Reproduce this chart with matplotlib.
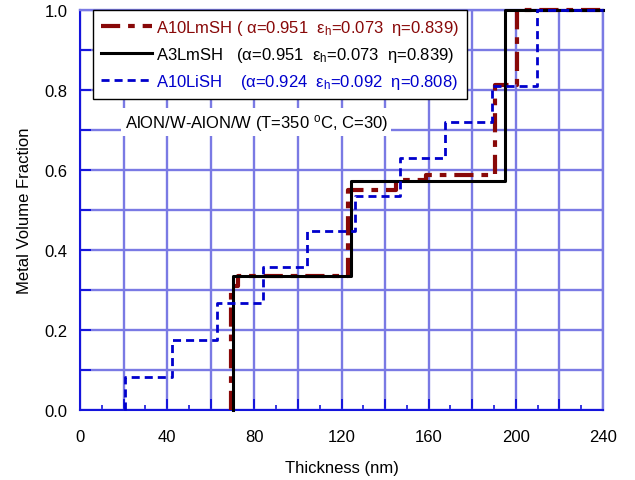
import matplotlib.pyplot as plt
from matplotlib.ticker import MultipleLocator, FuncFormatter
import numpy as np

plt.rcParams['font.family'] = ['Liberation Sans', 'DejaVu Sans']
plt.rcParams['mathtext.fontset'] = 'custom'
plt.rcParams['mathtext.rm'] = 'Liberation Sans'
plt.rcParams['mathtext.it'] = 'Liberation Sans:italic'

# layer boundaries (nm) and metal fraction of each layer
edges_A10LmSH = [69.3, 72.5, 123.0, 145.0, 159.0, 190.4, 200.4, 240.0]
frac_A10LmSH = [0.31, 0.335, 0.55, 0.575, 0.5875, 0.8125, 1.0]

edges_A3LmSH = [70.2, 124.3, 195.0, 240.0]
frac_A3LmSH = [0.334, 0.5725, 1.0]

edges_A10LiSH = [20.6, 42.0, 62.8, 83.8, 104.1, 126.1, 146.8, 167.4, 189.0, 209.8, 240.0]
frac_A10LiSH = [0.083, 0.175, 0.268, 0.357, 0.448, 0.535, 0.63, 0.72, 0.81, 1.0]

labels = [
    'A10LmSH ( \u03b1=0.951  \u03b5$_\\mathregular{h}$=0.073  \u03b7=0.839)',
    'A3LmSH   (\u03b1=0.951  \u03b5$_\\mathregular{h}$=0.073  \u03b7=0.839)',
    'A10LiSH    (\u03b1=0.924  \u03b5$_\\mathregular{h}$=0.092  \u03b7=0.808)',
]
note = 'AlON/W-AlON/W (T=350 $^\\mathregular{o}$C, C=30)'

RED = '#880808'
BLUE = '#0000cc'
AXBLUE = '#1414dc'
GRID = '#7a7ae4'


def step_xy(edges, frac):
    edges = np.asarray(edges)
    frac = np.asarray(frac)
    x = np.r_[edges[0], edges]
    y = np.r_[0.0, frac, frac[-1]]
    return x, y


fig = plt.figure(figsize=(6.35, 4.81), dpi=100)
ax = fig.add_axes([0.126, 0.1455, 0.8236, 0.8315])

x, y = step_xy(edges_A10LmSH, frac_A10LmSH)
ax.step(x, y, where='post', color=RED, lw=3.0, linestyle=(0, (4.6, 1.9, 1.6, 1.9)),
        label=labels[0], clip_on=False, zorder=3)
x, y = step_xy(edges_A3LmSH, frac_A3LmSH)
ax.step(x, y, where='post', color='black', lw=2.2, label=labels[1],
        clip_on=False, zorder=4)
x, y = step_xy(edges_A10LiSH, frac_A10LiSH)
ax.step(x, y, where='post', color=BLUE, lw=2.0, linestyle=(0, (2.9, 1.8)),
        label=labels[2], clip_on=False, zorder=5)

ax.set_xlim(0, 240)
ax.set_ylim(0, 1.0)

ax.xaxis.set_major_locator(MultipleLocator(20))
ax.xaxis.set_minor_locator(MultipleLocator(10))
ax.xaxis.set_major_formatter(FuncFormatter(lambda v, p: f'{v:.0f}' if round(v) % 40 == 0 else ''))
ax.yaxis.set_major_locator(MultipleLocator(0.1))
ax.yaxis.set_major_formatter(FuncFormatter(lambda v, p: f'{v:.1f}' if round(v * 10) % 2 == 0 else ''))

ax.set_axisbelow(True)
ax.grid(True, which='major', color=GRID, lw=1.7)
ax.tick_params(which='major', direction='in', length=8, width=1.4, color=AXBLUE,
               labelsize=12, top=False, right=False)
ax.tick_params(which='minor', direction='in', length=3.6, width=1.2, color=AXBLUE,
               top=False, right=False)
ax.tick_params(axis='x', which='major', pad=14)
ax.tick_params(axis='y', which='major', pad=9)

for side in ('left', 'bottom'):
    ax.spines[side].set_color(AXBLUE)
    ax.spines[side].set_linewidth(1.5)
for side in ('top', 'right'):
    ax.spines[side].set_color(GRID)
    ax.spines[side].set_linewidth(1.7)

ax.set_xlabel('Thickness (nm)', fontsize=12, labelpad=11)
ax.set_ylabel('Metal Volume Fraction', fontsize=12, labelpad=9)

leg = ax.legend(loc='upper left', bbox_to_anchor=(0.025, 1.0), borderaxespad=0,
                fontsize=12, handlelength=3.1, handletextpad=0.25,
                labelspacing=0.5, borderpad=0.45, fancybox=False,
                framealpha=1, edgecolor='black',
                labelcolor=[RED, 'black', BLUE])
leg.get_frame().set_linewidth(1.0)
leg.set_zorder(6)

ax.text(20.5, 0.72, note, fontsize=12, ha='left', va='center', zorder=6,
        bbox=dict(facecolor='white', edgecolor='none', pad=2.5))

fig.savefig('out.png', dpi=100)
